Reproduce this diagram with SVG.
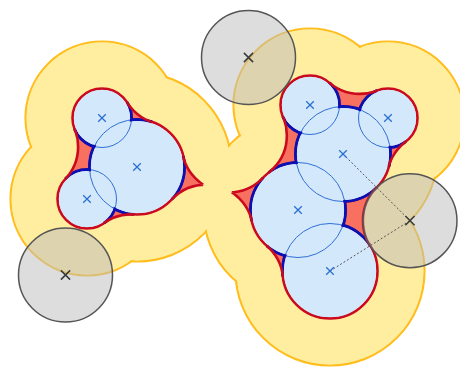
<svg xmlns="http://www.w3.org/2000/svg" width="460" height="367" viewBox="0 0 460 367">
<style>
.sas{fill:#ffeda0}
.sasl{fill:none;stroke:#ffbe1e;stroke-width:2.2}
.ses{fill:#f8705f}
.atom{fill:#d4e8fb}
.thin{fill:none;stroke:#2f6fd6;stroke-width:1}
.sesl{fill:none;stroke:#cc0a1e;stroke-width:2.6}
.inl{fill:none;stroke:#0a10b4;stroke-width:2.9}
.probe{fill:#bdbdbd;fill-opacity:0.52;stroke:#555;stroke-width:1.5}
.conn{stroke:#555;stroke-width:1;stroke-dasharray:2 2;fill:none}
.xa{stroke:#2a70d0;stroke-width:1.3;fill:none}
.xp{stroke:#3a3a3a;stroke-width:1.5;fill:none}
</style>
<defs>
<path id="xs" d="M-3.8,-3.8L3.8,3.8M-3.8,3.8L3.8,-3.8"/>
<path id="xl" d="M-4.6,-4.6L4.6,4.6M-4.6,4.6L4.6,-4.6"/>
<mask id="mSas" maskUnits="userSpaceOnUse" x="0" y="0" width="460" height="367">
<rect width="460" height="367" fill="#fff"/>
<g fill="#000">
<circle cx="102" cy="118" r="75.4"/><circle cx="137" cy="167" r="93.4"/><circle cx="87" cy="199" r="75.4"/>
<circle cx="310" cy="105" r="75.4"/><circle cx="388" cy="118" r="75.4"/><circle cx="343" cy="154" r="93.4"/>
<circle cx="298" cy="210" r="93.4"/><circle cx="330" cy="271" r="93.4"/>
</g>
</mask>
<mask id="mAtom" maskUnits="userSpaceOnUse" x="0" y="0" width="460" height="367">
<rect width="460" height="367" fill="#fff"/>
<g fill="#000">
<circle cx="102" cy="118" r="28.1"/><circle cx="137" cy="167" r="46.1"/><circle cx="87" cy="199" r="28.1"/>
<circle cx="310" cy="105" r="28.1"/><circle cx="388" cy="118" r="28.1"/><circle cx="343" cy="154" r="46.1"/>
<circle cx="298" cy="210" r="46.1"/><circle cx="330" cy="271" r="46.1"/>
</g>
</mask>
<mask id="mHole" maskUnits="userSpaceOnUse" x="0" y="0" width="460" height="367">
<rect width="460" height="367" fill="#fff"/>
<g fill="#000">
<circle cx="166.79" cy="77.32" r="47"/><circle cx="131.35" cy="261.33" r="47"/><circle cx="31.11" cy="146.76" r="47"/>
<circle cx="229" cy="145.42" r="47"/><circle cx="206" cy="231.58" r="47"/>
<circle cx="359.77" cy="46.9" r="47"/><circle cx="434.13" cy="179.03" r="47"/><circle cx="409.98" cy="220.66" r="47"/>
<circle cx="236.07" cy="281.38" r="47"/><circle cx="239.85" cy="135.51" r="47"/>
</g>
</mask>
<clipPath id="cA12"><polygon points="102,118 166.79,77.32 137,167"/></clipPath>
<clipPath id="cA23"><polygon points="137,167 131.35,261.33 87,199"/></clipPath>
<clipPath id="cA31q"><polygon points="87,199 31.11,146.76 102,118 137,167"/></clipPath>
<clipPath id="cA31t"><polygon points="87,199 31.11,146.76 102,118"/></clipPath>
<clipPath id="cCusp"><polygon points="137,167 229,145.42 298,210 206,231.58"/></clipPath>
<clipPath id="cP1"><polygon points="137,167 229,145.42 203.14,184.67"/></clipPath>
<clipPath id="cQ1"><polygon points="137,167 206,231.58 203.14,184.67"/></clipPath>
<clipPath id="cP2"><polygon points="298,210 229,145.42 231.86,192.34"/></clipPath>
<clipPath id="cQ2"><polygon points="298,210 206,231.58 231.86,192.34"/></clipPath>
<clipPath id="cB12q"><polygon points="310,105 359.77,46.9 388,118 343,154"/></clipPath>
<clipPath id="cB12t"><polygon points="310,105 359.77,46.9 388,118"/></clipPath>
<clipPath id="cB23"><polygon points="388,118 434.13,179.03 343,154"/></clipPath>
<clipPath id="cB35q"><polygon points="343,154 409.98,220.66 330,271 298,210"/></clipPath>
<clipPath id="cB35t"><polygon points="343,154 409.98,220.66 330,271"/></clipPath>
<clipPath id="cB54"><polygon points="330,271 236.07,281.38 298,210"/></clipPath>
<clipPath id="cB41q"><polygon points="298,210 239.85,135.51 310,105 343,154"/></clipPath>
<clipPath id="cB41t"><polygon points="298,210 239.85,135.51 310,105"/></clipPath>
</defs>

<g id="sas">
<g class="sas">
<circle cx="102" cy="118" r="76.5"/><circle cx="137" cy="167" r="94.5"/><circle cx="87" cy="199" r="76.5"/>
<circle cx="310" cy="105" r="76.5"/><circle cx="388" cy="118" r="76.5"/><circle cx="343" cy="154" r="94.5"/>
<circle cx="298" cy="210" r="94.5"/><circle cx="330" cy="271" r="94.5"/>
</g>
<g class="sasl" mask="url(#mSas)">
<circle cx="102" cy="118" r="76.5"/><circle cx="137" cy="167" r="94.5"/><circle cx="87" cy="199" r="76.5"/>
<circle cx="310" cy="105" r="76.5"/><circle cx="388" cy="118" r="76.5"/><circle cx="343" cy="154" r="94.5"/>
<circle cx="298" cy="210" r="94.5"/><circle cx="330" cy="271" r="94.5"/>
</g>
</g>

<g id="ses-fill" class="ses" mask="url(#mHole)">
<polygon points="102,118 166.79,77.32 137,167"/>
<polygon points="137,167 131.35,261.33 87,199"/>
<polygon points="87,199 31.11,146.76 102,118 137,167"/>
<polygon points="137,167 229,145.42 298,210 206,231.58"/>
<polygon points="310,105 359.77,46.9 388,118 343,154"/>
<polygon points="388,118 434.13,179.03 343,154"/>
<polygon points="343,154 409.98,220.66 330,271 298,210"/>
<polygon points="330,271 236.07,281.38 298,210"/>
<polygon points="298,210 239.85,135.51 310,105 343,154"/>
</g>

<g id="atoms" class="atom">
<g id="atom-a1"><circle cx="102" cy="118" r="29.5"/></g>
<g id="atom-a2"><circle cx="137" cy="167" r="47.5"/></g>
<g id="atom-a3"><circle cx="87" cy="199" r="29.5"/></g>
<g id="atom-b1"><circle cx="310" cy="105" r="29.5"/></g>
<g id="atom-b2"><circle cx="388" cy="118" r="29.5"/></g>
<g id="atom-b3"><circle cx="343" cy="154" r="47.5"/></g>
<g id="atom-b4"><circle cx="298" cy="210" r="47.5"/></g>
<g id="atom-b5"><circle cx="330" cy="271" r="47.5"/></g>
</g>

<g id="atom-outlines" class="thin">
<circle cx="102" cy="118" r="29.5"/><circle cx="137" cy="167" r="47.5"/><circle cx="87" cy="199" r="29.5"/>
<circle cx="310" cy="105" r="29.5"/><circle cx="388" cy="118" r="29.5"/><circle cx="343" cy="154" r="47.5"/>
<circle cx="298" cy="210" r="47.5"/><circle cx="330" cy="271" r="47.5"/>
</g>

<g id="ses-outline" mask="url(#mAtom)">
<g class="sesl">
<circle cx="102" cy="118" r="29.5"/><circle cx="137" cy="167" r="47.5"/><circle cx="87" cy="199" r="29.5"/>
<circle cx="310" cy="105" r="29.5"/><circle cx="388" cy="118" r="29.5"/><circle cx="343" cy="154" r="47.5"/>
<circle cx="298" cy="210" r="47.5"/><circle cx="330" cy="271" r="47.5"/>
</g>
<g class="inl">
<g clip-path="url(#cA12)"><circle cx="102" cy="118" r="29.5"/><circle cx="137" cy="167" r="47.5"/></g>
<g clip-path="url(#cA23)"><circle cx="137" cy="167" r="47.5"/><circle cx="87" cy="199" r="29.5"/></g>
<g clip-path="url(#cA31q)"><circle cx="87" cy="199" r="29.5"/><circle cx="102" cy="118" r="29.5"/><circle cx="137" cy="167" r="47.5"/></g>
<g clip-path="url(#cCusp)"><circle cx="137" cy="167" r="47.5"/><circle cx="298" cy="210" r="47.5"/></g>
<g clip-path="url(#cB12q)"><circle cx="310" cy="105" r="29.5"/><circle cx="388" cy="118" r="29.5"/><circle cx="343" cy="154" r="47.5"/></g>
<g clip-path="url(#cB23)"><circle cx="388" cy="118" r="29.5"/><circle cx="343" cy="154" r="47.5"/></g>
<g clip-path="url(#cB35q)"><circle cx="343" cy="154" r="47.5"/><circle cx="330" cy="271" r="47.5"/><circle cx="298" cy="210" r="47.5"/></g>
<g clip-path="url(#cB54)"><circle cx="330" cy="271" r="47.5"/><circle cx="298" cy="210" r="47.5"/></g>
<g clip-path="url(#cB41q)"><circle cx="298" cy="210" r="47.5"/><circle cx="310" cy="105" r="29.5"/><circle cx="343" cy="154" r="47.5"/></g>
</g>
</g>

<g id="reentrant" class="sesl">
<circle cx="166.79" cy="77.32" r="47" clip-path="url(#cA12)"/>
<circle cx="131.35" cy="261.33" r="47" clip-path="url(#cA23)"/>
<circle cx="31.11" cy="146.76" r="47" clip-path="url(#cA31t)"/>
<circle cx="229" cy="145.42" r="47" clip-path="url(#cP1)"/>
<circle cx="206" cy="231.58" r="47" clip-path="url(#cQ1)"/>
<circle cx="229" cy="145.42" r="47" clip-path="url(#cP2)"/>
<circle cx="206" cy="231.58" r="47" clip-path="url(#cQ2)"/>
<circle cx="359.77" cy="46.9" r="47" clip-path="url(#cB12t)"/>
<circle cx="434.13" cy="179.03" r="47" clip-path="url(#cB23)"/>
<circle cx="409.98" cy="220.66" r="47" clip-path="url(#cB35t)"/>
<circle cx="236.07" cy="281.38" r="47" clip-path="url(#cB54)"/>
<circle cx="239.85" cy="135.51" r="47" clip-path="url(#cB41t)"/>
</g>

<g id="probes">
<g id="probe-1"><circle class="probe" cx="248.5" cy="57.5" r="47"/></g>
<g id="probe-2"><circle class="probe" cx="65.5" cy="275" r="47"/></g>
<g id="probe-3"><circle class="probe" cx="409.98" cy="220.66" r="47"/></g>
</g>

<g id="connectors" class="conn">
<line x1="343" y1="154" x2="409.98" y2="220.66"/>
<line x1="330" y1="271" x2="409.98" y2="220.66"/>
</g>

<g id="centers">
<g class="xa">
<use href="#xs" x="102" y="118"/><use href="#xs" x="137" y="167"/><use href="#xs" x="87" y="199"/>
<use href="#xs" x="310" y="105"/><use href="#xs" x="388" y="118"/><use href="#xs" x="343" y="154"/>
<use href="#xs" x="298" y="210"/><use href="#xs" x="330" y="271"/>
</g>
<g class="xp">
<use href="#xl" x="248.5" y="57.5"/><use href="#xl" x="65.5" y="275"/><use href="#xl" x="409.98" y="220.66"/>
</g>
</g>
</svg>
